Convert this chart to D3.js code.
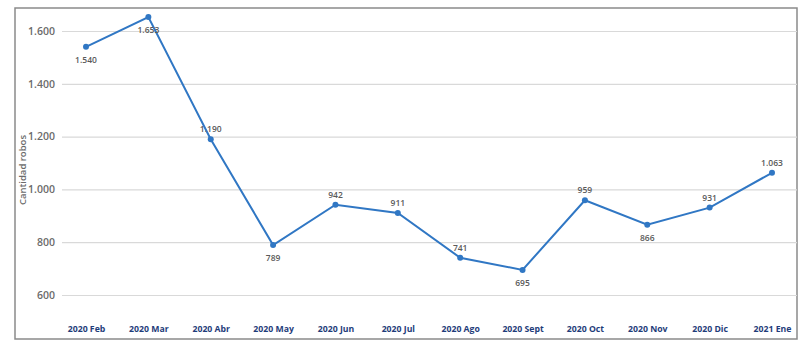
<!DOCTYPE html>
<html>
<head>
<meta charset="utf-8">
<script src="https://cdn.jsdelivr.net/npm/d3@7"></script>
<style>
  body { margin: 0; background: #fff; }
  text { font-family: "Open Sans", "Noto Sans", sans-serif; }
</style>
</head>
<body>
<div id="chart"></div>
<script>
// Data
const months = ["2020 Feb", "2020 Mar", "2020 Abr", "2020 May", "2020 Jun", "2020 Jul",
                 "2020 Ago", "2020 Sept", "2020 Oct", "2020 Nov", "2020 Dic", "2021 Ene"]
const robos = [1540, 1653, 1190, 789, 942, 911, 741, 695, 959, 866, 931, 1063]
const yTicks = [600, 800, 1000, 1200, 1400, 1600]
const labelsBelow = ["2020 Feb", "2020 Mar", "2020 May", "2020 Sept", "2020 Nov"]

const dataset = months.map((m, i) => ({ month: m, value: robos[i] }))
const xAccessor = d => d.month
const yAccessor = d => d.value

const fmt = d3.formatLocale({ decimal: ",", thousands: ".", grouping: [3], currency: ["", ""] }).format(",d")

// Dimensions
const width = 800
const height = 354
const frame = { left: 15, top: 8, right: 797, bottom: 339 }

const svg = d3.select("#chart")
  .append("svg")
    .attr("width", width)
    .attr("height", height)

// Frame
svg.append("rect")
    .attr("x", frame.left)
    .attr("y", frame.top)
    .attr("width", frame.right - frame.left)
    .attr("height", frame.bottom - frame.top)
    .attr("fill", "#fff")
    .attr("stroke", "#8a8a8a")
    .attr("stroke-width", 1.5)

// Scales
const xScale = d3.scalePoint()
    .domain(months)
    .range([86, 772])

const yScale = d3.scaleLinear()
    .domain([600, 1600])
    .range([295, 31])

// Gridlines
const yAxisGenerator = d3.axisLeft(yScale)
    .tickValues(yTicks)
    .tickSize(-(frame.right - 62))
    .tickPadding(7)
    .tickFormat(fmt)
const yAxis = svg.append("g")
    .attr("transform", "translate(62,0)")
    .call(yAxisGenerator)
yAxis.select(".domain").remove()
yAxis.selectAll(".tick line")
    .attr("stroke", "#d9d9d9")
    .attr("stroke-width", 1.2)
yAxis.selectAll(".tick text")
    .attr("fill", "#6b6b6b")
    .style("font-size", "10.5px")
    .style("font-weight", 600)

// Y label
svg.append("text")
    .attr("transform", "translate(26,170) rotate(-90)")
    .attr("text-anchor", "middle")
    .attr("fill", "#6b6b6b")
    .style("font-size", "9.5px")
    .style("font-weight", 600)
    .text("Cantidad robos")

// X axis labels
const xAxisGenerator = d3.axisBottom(xScale)
    .tickSize(0)
    .tickPadding(0)
const xAxis = svg.append("g")
    .attr("transform", "translate(0,326)")
    .call(xAxisGenerator)
xAxis.select(".domain").remove()
xAxis.selectAll(".tick text")
    .attr("fill", "#1f3d7a")
    .style("font-size", "8.7px")
    .style("font-weight", 700)

// Line
const lineGenerator = d3.line()
    .x(d => xScale(xAccessor(d)))
    .y(d => yScale(yAccessor(d)))
svg.append("path")
    .attr("d", lineGenerator(dataset))
    .attr("fill", "none")
    .attr("stroke", "#3077c4")
    .attr("stroke-width", 2)
    .attr("stroke-linejoin", "miter")

// Points
svg.selectAll(".dot")
  .data(dataset)
  .enter()
  .append("circle")
    .attr("class", "dot")
    .attr("cx", d => xScale(xAccessor(d)))
    .attr("cy", d => yScale(yAccessor(d)))
    .attr("r", 3)
    .attr("fill", "#3077c4")

// Value labels
svg.selectAll(".val")
  .data(dataset)
  .enter()
  .append("text")
    .attr("class", "val")
    .attr("x", d => xScale(xAccessor(d)))
    .attr("y", d => yScale(yAccessor(d)) + (labelsBelow.includes(d.month) ? 16 : -7))
    .attr("text-anchor", "middle")
    .attr("fill", "#5a5a5a")
    .style("font-size", "8.5px")
    .style("font-weight", 600)
    .text(d => fmt(yAccessor(d)))
</script>
</body>
</html>
